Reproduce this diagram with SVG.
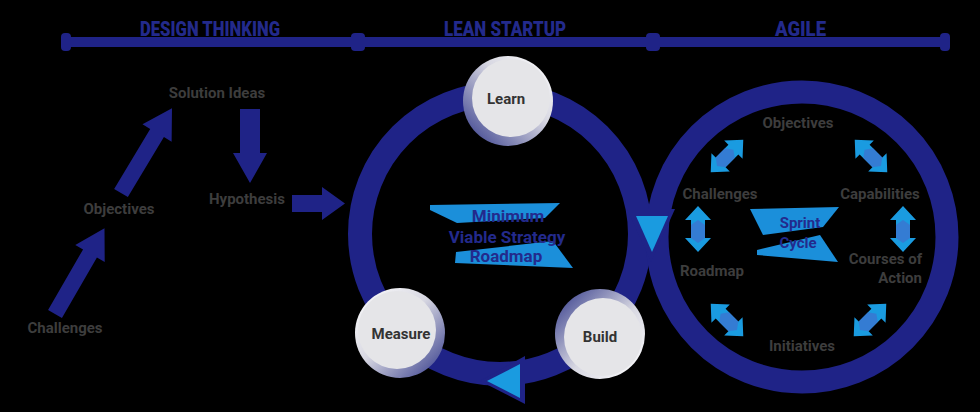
<svg xmlns="http://www.w3.org/2000/svg" width="980" height="412" viewBox="0 0 980 412">
<defs>
<style>
.lbl{font-family:Roboto,"Liberation Sans",sans-serif;font-weight:700;font-size:15px;fill:#3d3d3d;text-anchor:middle}
.node{font-family:Roboto,"Liberation Sans",sans-serif;font-weight:700;font-size:15px;fill:#333333;text-anchor:middle}
.hdr{font-family:Roboto,"Liberation Sans",sans-serif;font-weight:900;font-size:20px;fill:#232a8c}
.ctr{font-family:Roboto,"Liberation Sans",sans-serif;font-weight:700;font-size:17px;fill:#232a8c;text-anchor:middle}
.navy{fill:#1f2387}
.ring{fill:none;stroke:#1f2387}
.band{fill:#1b8fda}
.disc{fill:#e5e5e8}
</style>
<linearGradient id="gLearn" x1="0" y1="1" x2="1" y2="0"><stop offset="0" stop-color="#2e3587"/><stop offset="0.6" stop-color="#d8d8e2"/><stop offset="1" stop-color="#ffffff"/></linearGradient>
<linearGradient id="gMeasure" x1="0" y1="0" x2="1" y2="1"><stop offset="0" stop-color="#ffffff"/><stop offset="0.45" stop-color="#d8d8e2"/><stop offset="1" stop-color="#2e3587"/></linearGradient>
<linearGradient id="gBuild" x1="1" y1="1" x2="0" y2="0"><stop offset="0" stop-color="#ffffff"/><stop offset="0.45" stop-color="#d8d8e2"/><stop offset="1" stop-color="#2e3587"/></linearGradient>
<g id="dbl">
<polygon points="0,-23 13,-9 7,-9 7,9 13,9 0,23 -13,9 -7,9 -7,-9 -13,-9" fill="#1a9be0"/>
<polygon points="0,-9 7,-4 7,9 0,14 -7,9 -7,-4" fill="#4a63c8" opacity="0.55"/>
</g>
</defs>
<rect width="980" height="412" fill="#000000"/>

<g id="timeline">
<line x1="66" y1="42" x2="946" y2="42" stroke="#1f2387" stroke-width="10"/>
<rect x="61" y="33" width="10" height="18" rx="4" class="navy"/>
<rect x="351" y="33" width="14" height="18" rx="4" class="navy"/>
<rect x="646" y="33" width="14" height="18" rx="4" class="navy"/>
<rect x="940" y="33" width="10" height="18" rx="4" class="navy"/>
<text class="hdr" x="140" y="36" textLength="140" lengthAdjust="spacingAndGlyphs">DESIGN THINKING</text>
<text class="hdr" x="444" y="36" textLength="122" lengthAdjust="spacingAndGlyphs">LEAN STARTUP</text>
<text class="hdr" x="775" y="36" textLength="51" lengthAdjust="spacingAndGlyphs">AGILE</text>
</g>

<g id="connectors">
<g class="navy">
<polygon points="0,-8 70,-8 70,-17 99,0 70,17 70,8 0,8" transform="translate(55,314) rotate(-60)"/>
<polygon points="0,-8 70,-8 70,-17 99,0 70,17 70,8 0,8" transform="translate(121,193) rotate(-59)"/>
<polygon points="240,109 260,109 260,153 267,153 250,183 233,153 240,153"/>
<polygon points="292,195 322,195 322,187 345,203.5 322,220 322,212 292,212"/>
</g>
<circle class="ring" cx="500" cy="234" r="140" stroke-width="24"/>
<circle class="ring" cx="802" cy="237" r="145" stroke-width="23"/>
<polygon points="627,209 675,209 651,262" class="navy"/>
<polygon points="636,216 668,216 652,252" fill="#1a9be0"/>
<polygon points="480,381 525,356 525,404" class="navy"/>
<polygon points="487,381 520,364 520,398" fill="#1a9be0"/>
<use href="#dbl" transform="translate(727,156) rotate(45)"/>
<use href="#dbl" transform="translate(871,156) rotate(-45)"/>
<use href="#dbl" transform="translate(698,229)"/>
<use href="#dbl" transform="translate(903,229)"/>
<use href="#dbl" transform="translate(727,320) rotate(-45)"/>
<use href="#dbl" transform="translate(870,320) rotate(45)"/>
</g>

<g id="challenges-left"><text class="lbl" x="65" y="333">Challenges</text></g>
<g id="objectives-left"><text class="lbl" x="119" y="214">Objectives</text></g>
<g id="solution-ideas"><text class="lbl" x="217" y="98">Solution Ideas</text></g>
<g id="hypothesis"><text class="lbl" x="247" y="204">Hypothesis</text></g>

<g id="mvsr">
<polygon class="band" points="430,205 560,203 545,218 457,223 430,210"/>
<polygon class="band" points="456,252 553,241 573,268 455,263"/>
<text class="ctr" x="508" y="222">Minimum</text>
<text class="ctr" x="507" y="243" fill="#2a2080">Viable Strategy</text>
<text class="ctr" x="506" y="262">Roadmap</text>
</g>

<g id="learn">
<circle cx="508" cy="101" r="45" fill="url(#gLearn)"/>
<circle cx="511" cy="98" r="39" class="disc"/>
<text class="node" x="506" y="104">Learn</text>
</g>
<g id="measure">
<circle cx="400" cy="333" r="45" fill="url(#gMeasure)"/>
<circle cx="397" cy="330" r="39" class="disc"/>
<text class="node" x="401" y="339">Measure</text>
</g>
<g id="build">
<circle cx="600" cy="334" r="45" fill="url(#gBuild)"/>
<circle cx="603" cy="337" r="39" class="disc"/>
<text class="node" x="600" y="342">Build</text>
</g>

<g id="sprint-cycle">
<polygon class="band" points="750,209 839,207 823,227 763,235"/>
<polygon class="band" points="757,250 820,235 838,262 757,255"/>
<text class="ctr" x="800" y="228" style="font-size:15px">Sprint</text>
<text class="ctr" x="798" y="248" style="font-size:15px">Cycle</text>
</g>
<g id="objectives-right"><text class="lbl" x="798" y="128">Objectives</text></g>
<g id="challenges-right"><text class="lbl" x="720" y="199">Challenges</text></g>
<g id="capabilities"><text class="lbl" x="880" y="199">Capabilities</text></g>
<g id="roadmap"><text class="lbl" x="712" y="276">Roadmap</text></g>
<g id="courses-of-action"><text class="lbl" style="text-anchor:end" x="922" y="264">Courses of</text><text class="lbl" style="text-anchor:end" x="922" y="283">Action</text></g>
<g id="initiatives"><text class="lbl" x="802" y="351">Initiatives</text></g>
</svg>
